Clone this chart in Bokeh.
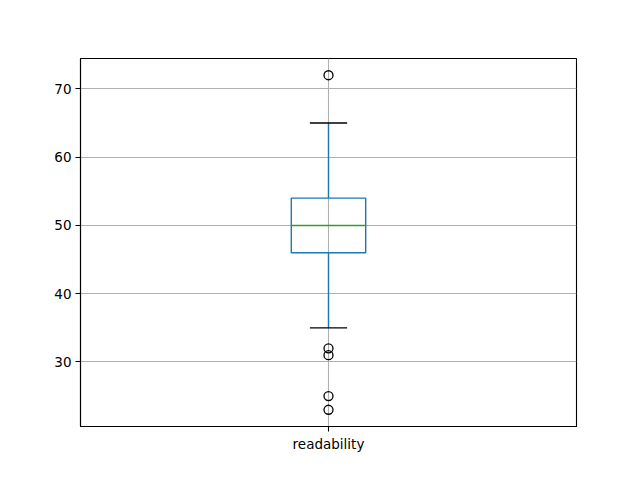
from bokeh.plotting import figure
from bokeh.models import FixedTicker, Range1d
from bokeh.embed import file_html
from bokeh.resources import INLINE

category = ["readability"]
q1 = [46]
median = [50]
q3 = [54]
whisker_low = [35]
whisker_high = [65]
outliers = [72, 32, 31, 25, 23]

pos = [1]
box_w = 0.15
cap_w = 0.075

p = figure(width=624, height=464, output_backend="svg", toolbar_location=None,
           x_range=Range1d(0.5, 1.5), y_range=Range1d(20.55, 74.45),
           min_border_left=80, min_border_right=48, min_border_top=58, min_border_bottom=38)

blue = "#1f77b4"
# whiskers
p.segment(x0=pos, y0=q1, x1=pos, y1=whisker_low, line_color=blue, line_width=1.4)
p.segment(x0=pos, y0=q3, x1=pos, y1=whisker_high, line_color=blue, line_width=1.4)
# caps
p.segment(x0=[x - cap_w / 2 for x in pos], y0=whisker_low, x1=[x + cap_w / 2 for x in pos], y1=whisker_low,
          line_color="black", line_width=1.4)
p.segment(x0=[x - cap_w / 2 for x in pos], y0=whisker_high, x1=[x + cap_w / 2 for x in pos], y1=whisker_high,
          line_color="black", line_width=1.4)
# box
p.quad(left=[x - box_w / 2 for x in pos], right=[x + box_w / 2 for x in pos], bottom=q1, top=q3,
       fill_alpha=0, line_color=blue, line_width=1.4)
# median
p.segment(x0=[x - box_w / 2 for x in pos], y0=median, x1=[x + box_w / 2 for x in pos], y1=median,
          line_color="#2ca02c", line_width=1.4)
# fliers
p.scatter(x=[pos[0]] * len(outliers), y=outliers, size=9, marker="circle",
          fill_alpha=0, line_color="black", line_width=1.3)

# axes
p.xaxis.ticker = FixedTicker(ticks=pos)
p.xaxis.major_label_overrides = {1: category[0]}
p.yaxis.ticker = FixedTicker(ticks=[30, 40, 50, 60, 70])
for ax in (p.xaxis[0], p.yaxis[0]):
    ax.axis_line_color = "black"
    ax.axis_line_width = 1.1
    ax.major_tick_in = 0
    ax.major_tick_out = 5
    ax.major_tick_line_color = "black"
    ax.major_tick_line_width = 1.1
    ax.minor_tick_line_color = None
    ax.major_label_text_font = "DejaVu Sans"
    ax.major_label_text_font_size = "13.5px"
    ax.major_label_text_color = "black"
    ax.major_label_standoff = 4

p.xgrid.ticker = FixedTicker(ticks=pos)
p.grid.grid_line_color = "#b0b0b0"
p.grid.grid_line_width = 1.1
p.outline_line_color = "black"
p.outline_line_width = 1.1
p.outline_line_alpha = 1.0
p.background_fill_color = "white"
p.border_fill_color = "white"

open("out.html", "w").write(file_html(p, INLINE))
